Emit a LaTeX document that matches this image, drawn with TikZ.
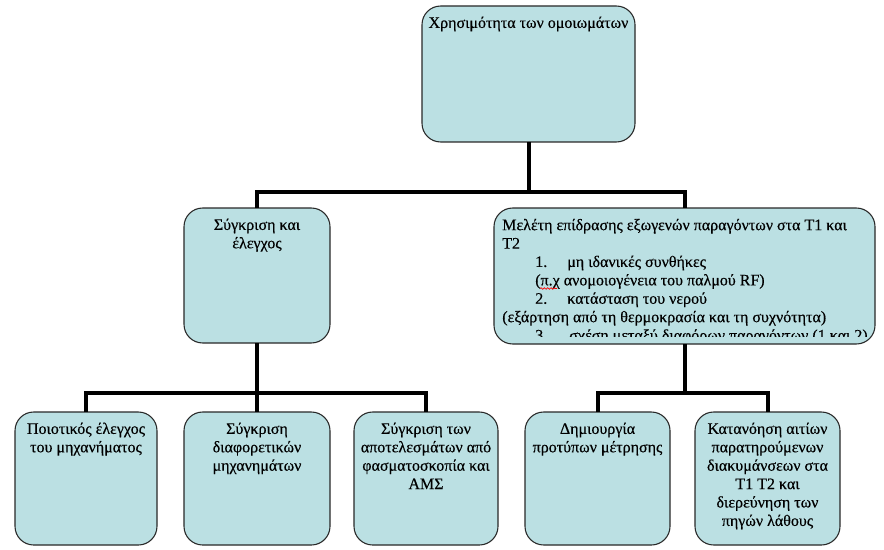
\documentclass[tikz,border=0pt]{standalone}
\usepackage{fontspec}
\setmainfont{Liberation Serif}[UprightFeatures={FakeBold=0.4}]
\usetikzlibrary{decorations.pathmorphing}
\newlength\pxu
\pxu=0.75pt
\definecolor{boxfill}{RGB}{187,224,227}
\definecolor{boxline}{RGB}{40,40,40}
\newcommand\bt[3]{\parbox[c][#2\pxu][t]{#1\pxu}{\fontsize{12pt}{13.8pt}\selectfont\vspace*{9\pxu}#3}}
\begin{document}
\begin{tikzpicture}[x=0.75pt,y=-0.75pt,
  box/.style={draw=boxline,line width=0.8pt,fill=boxfill,rounded corners=14pt,inner sep=0pt,outer sep=0pt},
  conn/.style={line width=3pt,draw=black,line join=miter}]
\useasboundingbox (0,0) rectangle (884,549);
% boxes
\node[box] (root) at (528.5,74) {\bt{213}{136}{\centering\strut Χρησιμότητα των ομοιωμάτων}};
\node[box] (A) at (257,275.5) {\bt{146}{135}{\centering\strut Σύγκριση και\\ έλεγχος}};
\node[box,minimum width=381\pxu,minimum height=136\pxu] (B) at (684.5,276) {};
\node[box] (C1) at (86,478.5) {\bt{142}{133}{\centering\strut Ποιοτικός έλεγχος\\ του μηχανήματος}};
\node[box] (C2) at (257,478.5) {\bt{146}{133}{\centering\strut Σύγκριση\\ διαφορετικών\\ μηχανημάτων}};
\node[box] (C3) at (426,478.5) {\bt{144}{133}{\centering\strut Σύγκριση των\\ αποτελεσμάτων από\\ φασματοσκοπία και\\ ΑΜΣ}};
\node[box] (D1) at (597.5,478.5) {\bt{145}{133}{\centering\strut Δημιουργία\\ προτύπων μέτρησης}};
\node[box] (D2) at (767.5,478.5) {\bt{145}{133}{\centering\strut Κατανόηση αιτίων\\ παρατηρούμενων\\ διακυμάνσεων στα\\ Τ1 Τ2 και\\ διερεύνηση των\\ πηγών λάθους}};
% text of B, clipped at the bottom
\begin{scope}
\clip (494,208) rectangle (875,336);
\node[anchor=north west,inner sep=0pt] (Btext) at (502,208) {\bt{370}{136}{\raggedright
\strut Μελέτη επίδρασης εξωγενών παραγόντων στα Τ1 και\\
Τ2\\
\hspace*{33\pxu}\makebox[32\pxu][l]{1.}μη ιδανικές συνθήκες\\
\hspace*{33\pxu}(π.χ ανομοιογένεια του παλμού RF)\\
\hspace*{33\pxu}\makebox[32\pxu][l]{2.}κατάσταση του νερού\\
(εξάρτηση από τη θερμοκρασία και τη συχνότητα)\\
\hspace*{33\pxu}\makebox[34\pxu][l]{3.}σχέση μεταξύ διαφόρων παραγόντων (1 και 2)}};
\end{scope}
\draw[red,line width=0.5pt,decorate,decoration={snake,amplitude=0.6pt,segment length=2.5pt}] (540,288.5) -- (557,288.5);
% connectors
\coordinate (j1) at (528.5,192);
\coordinate (j2) at (257,393);
\coordinate (j3) at (684.5,393);
\draw[conn] (root.south) -- (j1);
\draw[conn] (A.north) |- (j1) -| (B.north);
\draw[conn] (A.south) -- (j2);
\draw[conn] (C1.north) |- (j2) -| (C3.north);
\draw[conn] (j2) -- (C2.north);
\draw[conn] (B.south) -- (j3);
\draw[conn] (D1.north) |- (j3) -| (D2.north);
\end{tikzpicture}
\end{document}
